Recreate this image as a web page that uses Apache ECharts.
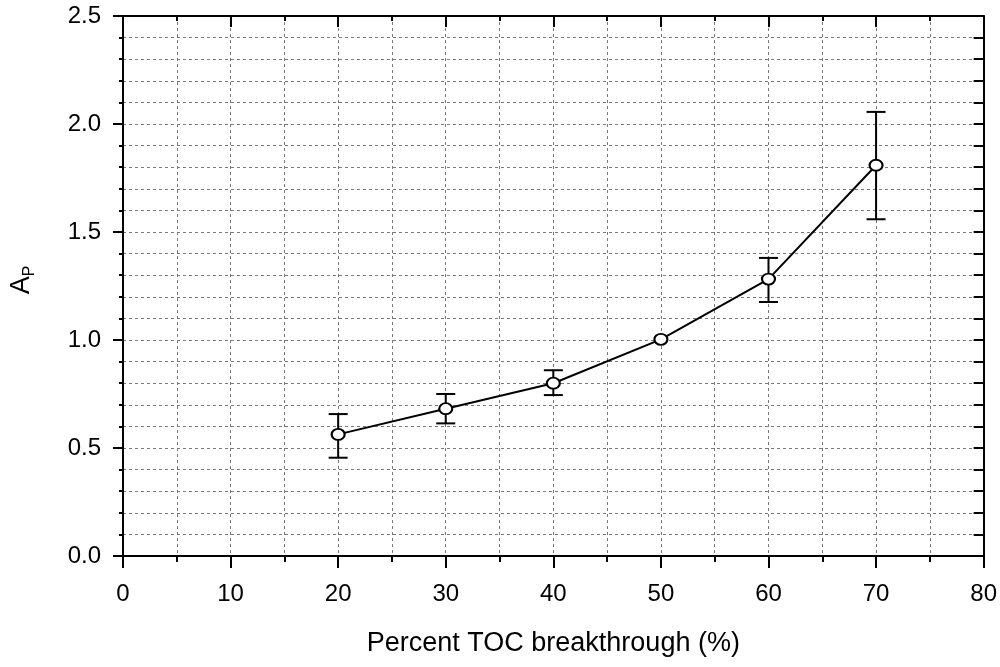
<!DOCTYPE html>
<html>
<head>
<meta charset="utf-8">
<script src="https://cdn.jsdelivr.net/npm/echarts@6/dist/echarts.min.js"></script>
<style>
html,body{margin:0;padding:0;background:#fff;}
#chart{width:1000px;height:667px;}
</style>
</head>
<body>
<div id="chart"></div>
<script>
// Data
var xValues = [20, 30, 40, 50, 60, 70];
var yValues = [0.563, 0.682, 0.800, 1.003, 1.282, 1.809];
var errLow  = [0.455, 0.614, 0.745, null, 1.176, 1.559];
var errHigh = [0.657, 0.750, 0.860, null, 1.380, 2.056];
var xTickLabels = ['0','10','20','30','40','50','60','70','80'];
var yTickLabels = ['0.0','0.5','1.0','1.5','2.0','2.5'];
var xTitle = 'Percent TOC breakthrough (%)';

var FONT = '"Liberation Sans", Arial, sans-serif';
var gridLine = {show: true, lineStyle: {color: '#7a7a7a', width: 1, type: [3, 3]}};

var lineData = xValues.map(function (x, i) { return [x, yValues[i]]; });
var errData = [];
xValues.forEach(function (x, i) {
  if (errLow[i] != null && errHigh[i] != null) errData.push([x, errLow[i], errHigh[i]]);
});

var chart = echarts.init(document.getElementById('chart'), null, {renderer: 'canvas'});
chart.setOption({
  animation: false,
  backgroundColor: '#fff',
  grid: {left: 123, right: 10, top: 16, bottom: 111, containLabel: false},
  graphic: [{
    type: 'text', x: 22, y: 280, rotation: Math.PI / 2,
    style: {
      text: '{a|A}{b|P}', align: 'center', verticalAlign: 'middle',
      rich: {
        a: {fontSize: 27, fontFamily: FONT, fill: '#000', lineHeight: 32, verticalAlign: 'middle'},
        b: {fontSize: 16, fontFamily: FONT, fill: '#000', lineHeight: 16, verticalAlign: 'bottom'}
      }
    }
  }],
  xAxis: [{
    type: 'value', position: 'bottom', min: 0, max: 80, interval: 10,
    axisLine: {show: true, onZero: false, lineStyle: {color: '#000', width: 2}},
    axisTick: {show: true, inside: false, length: 12, lineStyle: {color: '#000', width: 2}},
    minorTick: {show: true, splitNumber: 2, length: 6, lineStyle: {color: '#000', width: 2}},
    splitLine: gridLine,
    minorSplitLine: gridLine,
    axisLabel: {
      margin: 26, color: '#000', fontSize: 24, fontFamily: FONT,
      formatter: function (v) { return xTickLabels[Math.round(v / 10)]; }
    },
    name: xTitle, nameLocation: 'middle', nameGap: 74,
    nameTextStyle: {color: '#000', fontSize: 27, fontFamily: FONT}
  }, {
    type: 'value', position: 'top', min: 0, max: 80, interval: 10,
    axisLine: {show: true, onZero: false, lineStyle: {color: '#000', width: 2}},
    axisTick: {show: true, inside: true, length: 11, lineStyle: {color: '#000', width: 2}},
    minorTick: {show: true, splitNumber: 2, length: 5, lineStyle: {color: '#000', width: 2}},
    splitLine: {show: false}, axisLabel: {show: false}
  }],
  yAxis: [{
    type: 'value', position: 'left', min: 0, max: 2.5, interval: 0.5,
    axisLine: {show: true, onZero: false, lineStyle: {color: '#000', width: 2}},
    axisTick: {show: true, inside: false, length: 10, lineStyle: {color: '#000', width: 2}},
    minorTick: {show: true, splitNumber: 5, length: 4, lineStyle: {color: '#000', width: 2}},
    splitLine: gridLine,
    minorSplitLine: gridLine,
    axisLabel: {
      margin: 22, color: '#000', fontSize: 24, fontFamily: FONT,
      formatter: function (v) { return yTickLabels[Math.round(v / 0.5)]; }
    }
  }, {
    type: 'value', position: 'right', min: 0, max: 2.5, interval: 0.5,
    axisLine: {show: true, onZero: false, lineStyle: {color: '#000', width: 2}},
    axisTick: {show: true, inside: true, length: 10, lineStyle: {color: '#000', width: 2}},
    minorTick: {show: true, splitNumber: 5, length: 10, lineStyle: {color: '#000', width: 2}},
    splitLine: {show: false}, axisLabel: {show: false}
  }, {
    type: 'value', position: 'left', min: 0, max: 2.5, interval: 0.5,
    axisLine: {show: false},
    axisTick: {show: false},
    minorTick: {show: true, splitNumber: 5, length: 4, lineStyle: {color: '#000', width: 2}},
    splitLine: {show: false}, axisLabel: {show: false}
  }],
  series: [{
    type: 'custom',
    xAxisIndex: 0, yAxisIndex: 0,
    data: errData,
    z: 2,
    renderItem: function (params, api) {
      var x = api.value(0);
      var lo = api.coord([x, api.value(1)]);
      var hi = api.coord([x, api.value(2)]);
      var hw = 9.5;
      var st = {stroke: '#000', lineWidth: 2, fill: null};
      return {
        type: 'group',
        children: [
          {type: 'line', shape: {x1: lo[0], y1: lo[1], x2: hi[0], y2: hi[1]}, style: st},
          {type: 'line', shape: {x1: lo[0] - hw, y1: lo[1], x2: lo[0] + hw, y2: lo[1]}, style: st},
          {type: 'line', shape: {x1: hi[0] - hw, y1: hi[1], x2: hi[0] + hw, y2: hi[1]}, style: st}
        ]
      };
    }
  }, {
    type: 'line',
    xAxisIndex: 0, yAxisIndex: 0,
    data: lineData,
    z: 3,
    symbol: 'circle',
    symbolSize: [13, 11],
    showAllSymbol: true,
    lineStyle: {color: '#000', width: 2},
    itemStyle: {color: '#fff', borderColor: '#000', borderWidth: 2},
    emphasis: {disabled: true}
  }]
});
</script>
</body>
</html>
